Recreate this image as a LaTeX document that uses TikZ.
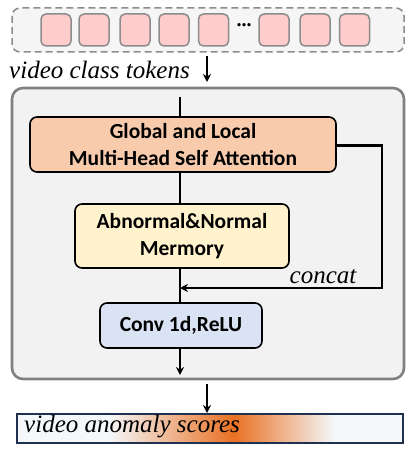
\documentclass[tikz,border=0pt]{standalone}
\usepackage{fontspec}
\setmainfont{Liberation Serif}
\newfontfamily\calib{Carlito}
\usetikzlibrary{arrows.meta}
\definecolor{tokfill}{HTML}{FFCCCC}
\definecolor{tokdraw}{HTML}{8C8C8C}
\definecolor{topfill}{HTML}{F5F5F5}
\definecolor{mainfill}{HTML}{F2F2F2}
\definecolor{maindraw}{HTML}{808080}
\definecolor{gfill}{HTML}{F8CBAD}
\definecolor{mfill}{HTML}{FFF2CC}
\definecolor{cfill}{HTML}{DAE3F3}
\definecolor{orng}{HTML}{E97124}
\definecolor{pale}{HTML}{F4F8FB}
\definecolor{navy}{HTML}{1F3050}
\tikzset{
  tok/.style={draw=tokdraw, line width=1.5pt, fill=tokfill, rounded corners=5pt, minimum width=30pt, minimum height=32pt, inner sep=0pt},
  blk/.style={draw=black, line width=1.6pt, rounded corners=7pt, align=center, font=\calib\bfseries\fontsize{21.5}{26.5}\selectfont, inner sep=0pt},
  conn/.style={line width=2.2pt, draw=black},
  arr/.style={conn, -{Stealth[length=8pt,width=8pt]}},
  lbl/.style={font=\itshape\fontsize{25}{28}\selectfont, inner sep=0pt}
}
\begin{document}
\begin{tikzpicture}[x=1pt,y=-1pt]
\useasboundingbox (0,0) rectangle (415,454);
% top token box
\draw[draw=tokdraw, line width=1.5pt, fill=topfill, rounded corners=8pt, dash pattern=on 7pt off 4pt] (12,8) rectangle (404,52);
\node[tok] (t1) at (56,30) {};
\node[tok] (t2) at (94,30) {};
\node[tok] (t3) at (135,30) {};
\node[tok] (t4) at (174,30) {};
\node[tok] (t5) at (213.5,30) {};
\node[font=\bfseries\fontsize{20}{20}\selectfont, inner sep=0pt] (dots) at (244,25) {...};
\node[tok] (t6) at (274,30) {};
\node[tok] (t7) at (315,30) {};
\node[tok] (t8) at (354.5,30) {};
\node[lbl, anchor=west] (vct) at (9,70) {video class tokens};
\coordinate (a1s) at (207,56);
\coordinate (a1e) at (207,82);
\draw[arr] (a1s) -- (a1e);
% main box
\draw[draw=maindraw, fill=mainfill, line width=2.6pt, rounded corners=11pt] (12,88) rectangle (404,379);
\node[blk, fill=gfill, minimum width=306pt, minimum height=55pt] (g) at (183,144.5) {Global and Local\\Multi-Head Self Attention};
\node[blk, fill=mfill, minimum width=214pt, minimum height=64pt] (m) at (182,236) {Abnormal\&Normal\\Mermory};
\node[blk, fill=cfill, minimum width=162pt, minimum height=45pt] (c) at (181,325.5) {Conv 1d,ReLU};
\coordinate (in) at (180,97);
\coordinate (out) at (180,375);
\coordinate (cr1) at (382,145.5);
\coordinate (cr2) at (382,288);
\coordinate (cj) at (180,288);
\draw[conn] (in) -- (in |- g.north);
\draw[conn] (in |- g.south) -- (in |- m.north);
\draw[conn] (in |- m.south) -- (in |- c.north);
\draw[arr] (g.east |- cr1) -- (cr1) -- (cr2) -- (cj);
\node[lbl, anchor=south] (cc) at (323,284) {concat};
\draw[arr] (in |- c.south) -- (out);
% output
\coordinate (a2s) at (207,384);
\coordinate (a2e) at (207,413);
\draw[arr] (a2s) -- (a2e);
\fill[pale] (17,414) rectangle (403,443);
\shade[left color=pale, right color=orng] (108,414) rectangle (234,443);
\shade[left color=orng, right color=pale] (234,414) rectangle (335,443);
\node[draw=navy, line width=1.2pt, minimum width=386pt, minimum height=29pt, inner sep=0pt] (s) at (210,428.5) {};
\node[lbl, anchor=west] (vas) at (24,427) {video anomaly scores};
\end{tikzpicture}
\end{document}
